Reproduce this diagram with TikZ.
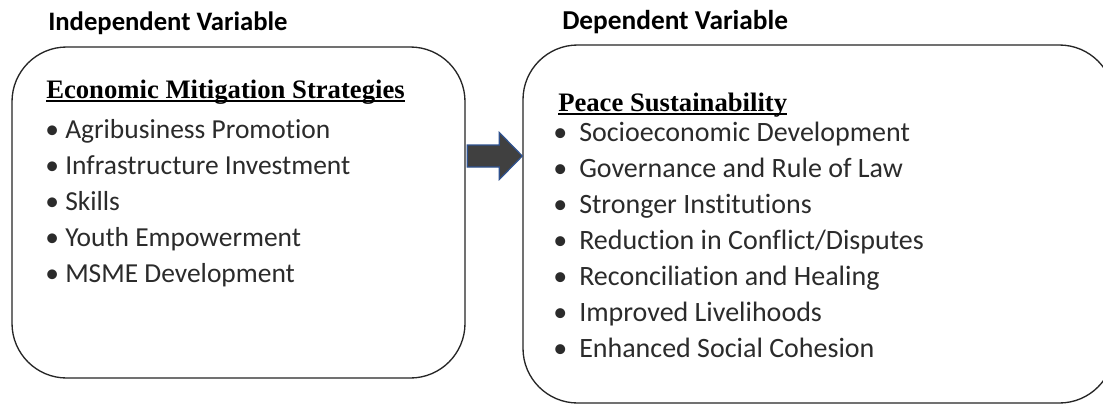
\documentclass[tikz,border=0pt]{standalone}
\usepackage{fontspec}
\setmainfont{Carlito}[Ligatures=NoCommon]
\newfontfamily\headfont{Liberation Serif}
\usepackage{tikz}
\usetikzlibrary{positioning, calc}
\definecolor{boxline}{HTML}{262626}
\definecolor{itemtext}{HTML}{2B2B2B}
\definecolor{arrowfill}{HTML}{404040}
\definecolor{arrowedge}{HTML}{2F528F}

\begin{document}
\begin{tikzpicture}[x=0.75pt, y=-0.75pt,
    varbox/.style={draw=boxline, line width=1pt, rounded corners=41pt, inner sep=0pt},
    vartitle/.style={font=\fontsize{20}{24}\selectfont\bfseries, anchor=base west, inner sep=0pt},
    listhead/.style={font=\headfont\fontsize{20}{24}\selectfont\bfseries, anchor=base west, inner sep=0pt},
    listitem/.style={font=\fontsize{20.6}{24}\selectfont, text=itemtext, anchor=base west, inner sep=0pt},
    ulline/.style={line width=1.1pt, black},
    blockarrow/.style={fill=arrowfill, draw=arrowedge, line width=0.9pt, line join=miter}
]
    \clip (0,0) rectangle (1103,405);
    \fill[white] (0,0) rectangle (1103,405);

    % Titles
    \node[vartitle] (ivtitle) at (48,30) {Independent Variable};
    \node[vartitle, font=\fontsize{20.5}{24}\selectfont\bfseries] (dvtitle) at (562,29) {Dependent Variable};

    % Boxes
    \node[varbox, minimum width=443.25pt, minimum height=268.5pt] (dvbox) at (818.5,224) {};
    \node[varbox, minimum width=339.75pt, minimum height=248.25pt] (ivbox) at (238.5,212.5) {};

    % Left list
    \node[listhead] (ivhead) at (46,98) {Economic Mitigation Strategies};
    \draw[ulline] ($(ivhead.base west)+(0,3)$) -- ($(ivhead.base east)+(0,3)$);
    \foreach \txt [count=\i] in {Agribusiness Promotion, Infrastructure Investment, Skills, Youth Empowerment, MSME Development}
        \node[listitem] (ivitem\i) at (45,102+36*\i) {\makebox[15pt][l]{\textbullet}\txt};

    % Right list
    \node[listhead] (dvhead) at (558,111) {Peace Sustainability};
    \draw[ulline] ($(dvhead.base west)+(0,3)$) -- ($(dvhead.base east)+(0,3)$);
    \foreach \txt [count=\i] in {Socioeconomic Development, Governance and Rule of Law, Stronger Institutions, Reduction in Conflict/Disputes, Reconciliation and Healing, Improved Livelihoods, Enhanced Social Cohesion}
        \node[listitem, font=\fontsize{21}{24}\selectfont] (dvitem\i) at (553,105+36*\i) {\makebox[19.5pt][l]{\textbullet}\txt};

    % Block arrow between the boxes
    \coordinate (tail) at (ivbox.east |- 0,156);
    \coordinate (tip) at (dvbox.west |- 0,156);
    \draw[blockarrow] ($(tail)+(1.5,-11)$) -- ($(tip)+(-23,-11)$) -- ($(tip)+(-23,-23.5)$)
        -- (tip) -- ($(tip)+(-23,23.5)$) -- ($(tip)+(-23,11)$) -- ($(tail)+(1.5,11)$) -- cycle;
\end{tikzpicture}
\end{document}
